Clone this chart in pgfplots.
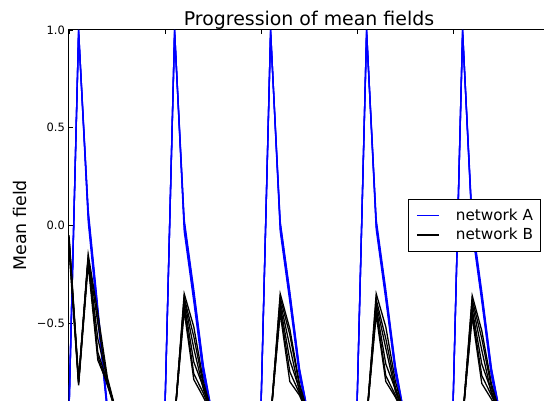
\documentclass[border=0pt]{standalone}
\usepackage{fontspec}
\setmainfont{DejaVu Sans}
\usepackage{pgfplots}
\usepackage{pgfplotstable}
\pgfplotsset{compat=1.18}
\definecolor{mplblue}{RGB}{0,0,255}
\pgfplotsset{
  bluelegend/.style={
    legend image code/.code={%
      \draw[draw=mplblue, color=mplblue, line width=1.3bp] (0bp,0bp) -- (22bp,0bp);
      \path[draw=none, fill=none] (22bp,0bp) -- (39bp,0bp);%
    }
  },
  blacklegend/.style={
    legend image code/.code={%
      \draw[draw=black, color=black, line width=1.3bp] (0bp,0bp) -- (22bp,0bp);
      \path[draw=none, fill=none] (22bp,0bp) -- (39bp,0bp);%
    }
  }
}

\pgfplotstableread{
t a1 a2 a3 a4 b1 b2 b3 b4 b5 b6
0 -0.95 -0.96 -0.94 -0.95 -0.05 -0.07 -0.08 -0.10 -0.12 -0.06
1 1.00 0.99 1.00 0.98 -0.79 -0.80 -0.80 -0.81 -0.82 -0.80
2 0.05 0.08 0.02 0.06 -0.15 -0.16 -0.17 -0.18 -0.20 -0.17
3 -0.45 -0.42 -0.48 -0.44 -0.45 -0.50 -0.58 -0.65 -0.69 -0.67
4 -0.95 -0.93 -0.96 -0.94 -0.78 -0.80 -0.79 -0.80 -0.81 -0.82
5 -0.99 -0.99 -1.00 -0.99 -0.97 -0.97 -0.98 -0.97 -0.98 -0.97
6 -0.99 -0.99 -0.99 -0.99 -0.98 -0.98 -0.98 -0.98 -0.98 -0.98
7 -0.99 -0.99 -0.99 -0.99 -0.98 -0.98 -0.98 -0.98 -0.98 -0.98
8 -0.99 -0.99 -0.99 -0.99 -0.99 -0.99 -0.99 -0.99 -0.99 -0.99
9 -0.98 -0.98 -0.98 -0.98 -0.99 -0.99 -0.99 -0.99 -0.99 -0.99
10 -0.93 -0.94 -0.92 -0.93 -0.99 -0.99 -0.99 -0.99 -0.99 -0.99
11 1.00 0.99 1.00 0.98 -1.00 -0.99 -1.00 -0.99 -1.00 -0.99
12 0.00 0.03 -0.03 0.01 -0.35 -0.37 -0.38 -0.40 -0.42 -0.44
13 -0.36 -0.33 -0.39 -0.35 -0.52 -0.57 -0.63 -0.70 -0.76 -0.79
14 -0.75 -0.72 -0.77 -0.73 -0.80 -0.82 -0.84 -0.83 -0.86 -0.88
15 -1.00 -0.99 -1.00 -0.99 -0.98 -0.98 -0.98 -0.98 -0.98 -0.98
16 -0.99 -0.99 -0.99 -0.99 -0.99 -0.99 -0.99 -0.99 -0.99 -0.99
17 -0.99 -0.99 -0.99 -0.99 -0.99 -0.99 -0.99 -0.99 -0.99 -0.99
18 -0.99 -0.99 -0.99 -0.99 -0.99 -0.99 -0.99 -0.99 -0.99 -0.99
19 -0.98 -0.98 -0.98 -0.98 -0.99 -0.99 -0.99 -0.99 -0.99 -0.99
20 -0.93 -0.94 -0.92 -0.93 -0.99 -0.99 -0.99 -0.99 -0.99 -0.99
21 1.00 0.99 1.00 0.98 -1.00 -0.99 -1.00 -0.99 -1.00 -0.99
22 -0.01 0.02 -0.03 0.01 -0.35 -0.37 -0.39 -0.41 -0.43 -0.45
23 -0.37 -0.34 -0.39 -0.35 -0.53 -0.56 -0.62 -0.69 -0.75 -0.80
24 -0.75 -0.73 -0.77 -0.74 -0.81 -0.82 -0.85 -0.84 -0.86 -0.87
25 -1.00 -0.99 -1.00 -0.99 -0.98 -0.98 -0.98 -0.98 -0.98 -0.98
26 -0.99 -0.99 -0.99 -0.99 -0.99 -0.99 -0.99 -0.99 -0.99 -0.99
27 -0.99 -0.99 -0.99 -0.99 -0.99 -0.99 -0.99 -0.99 -0.99 -0.99
28 -0.99 -0.99 -0.99 -0.99 -0.99 -0.99 -0.99 -0.99 -0.99 -0.99
29 -0.98 -0.98 -0.98 -0.98 -0.99 -0.99 -0.99 -0.99 -0.99 -0.99
30 -0.93 -0.94 -0.92 -0.93 -0.99 -0.99 -0.99 -0.99 -0.99 -0.99
31 1.00 0.99 1.00 0.98 -1.00 -0.99 -1.00 -0.99 -1.00 -0.99
32 0.00 0.03 -0.02 0.01 -0.35 -0.38 -0.40 -0.42 -0.44 -0.46
33 -0.36 -0.33 -0.38 -0.35 -0.52 -0.58 -0.63 -0.71 -0.77 -0.80
34 -0.75 -0.72 -0.76 -0.73 -0.80 -0.83 -0.85 -0.84 -0.87 -0.88
35 -1.00 -0.99 -1.00 -0.99 -0.98 -0.98 -0.98 -0.98 -0.98 -0.98
36 -0.99 -0.99 -0.99 -0.99 -0.99 -0.99 -0.99 -0.99 -0.99 -0.99
37 -0.99 -0.99 -0.99 -0.99 -0.99 -0.99 -0.99 -0.99 -0.99 -0.99
38 -0.99 -0.99 -0.99 -0.99 -0.99 -0.99 -0.99 -0.99 -0.99 -0.99
39 -0.98 -0.98 -0.98 -0.98 -0.99 -0.99 -0.99 -0.99 -0.99 -0.99
40 -0.93 -0.94 -0.92 -0.93 -0.99 -0.99 -0.99 -0.99 -0.99 -0.99
41 1.00 0.99 1.00 0.98 -1.00 -0.99 -1.00 -0.99 -1.00 -0.99
42 -0.01 0.02 -0.03 0.00 -0.36 -0.38 -0.40 -0.43 -0.45 -0.47
43 -0.37 -0.34 -0.39 -0.36 -0.54 -0.58 -0.64 -0.71 -0.77 -0.81
44 -0.76 -0.73 -0.77 -0.74 -0.81 -0.83 -0.86 -0.85 -0.87 -0.89
45 -1.00 -0.99 -1.00 -0.99 -0.98 -0.98 -0.98 -0.98 -0.98 -0.98
46 -0.99 -0.99 -0.99 -0.99 -0.99 -0.99 -0.99 -0.99 -0.99 -0.99
47 -0.99 -0.99 -0.99 -0.99 -0.99 -0.99 -0.99 -0.99 -0.99 -0.99
48 -0.99 -0.99 -0.99 -0.99 -0.99 -0.99 -0.99 -0.99 -0.99 -0.99
49 -0.98 -0.98 -0.98 -0.98 -0.99 -0.99 -0.99 -0.99 -0.99 -0.99
}\meandata

\begin{document}
\begin{tikzpicture}
\useasboundingbox (-69bp,19.6bp) rectangle (475bp,420.6bp);
\clip (-69bp,19.6bp) rectangle (475bp,420.6bp);
\begin{axis}[
  at={(0bp,0bp)}, anchor=south west,
  scale only axis, width=480bp, height=390.6bp,
  xmin=0, xmax=50, ymin=-1, ymax=1,
  xtick={0,10,20,30,40,50},
  xticklabels={},
  ytick={-0.5,0,0.5,1},
  yticklabels={−0.5,0.0,0.5,1.0},
  tick align=inside, major tick length=4bp, tick pos=both,
  minor tick num=0,
  axis line style={black, line width=1bp},
  every tick/.style={black, line width=0.8bp},
  yticklabel style={font=\fontsize{11.5}{13}\selectfont, anchor=east, inner sep=0pt, xshift=-4bp},
  title={Progression of mean fields},
  title style={font=\fontsize{19}{22}\selectfont, at={(axis description cs:0.5,1)}, anchor=south, inner sep=0pt, yshift=-5.5bp},
  ylabel={Mean field},
  ylabel style={font=\fontsize{17.5}{20}\selectfont, at={(axis description cs:-0.1027,0.5)}, anchor=center, inner sep=0pt},
  legend style={at={(axis description cs:1,0.5)}, anchor=east, xshift=-8bp,
    line width=0.8bp, fill=white,
    font=\fontsize{15.3}{18}\selectfont,
    inner xsep=7.5bp, inner ysep=9.5bp, row sep=5.8bp,
    cells={anchor=west}, nodes={inner sep=0pt, text depth=0.2em}},
]
\addplot[color=mplblue, line width=1.3bp, bluelegend] table[x=t, y=a1] {\meandata};
\addlegendentry{network A}
\addplot[color=mplblue, line width=1.3bp, forget plot] table[x=t, y=a2] {\meandata};
\addplot[color=mplblue, line width=1.3bp, forget plot] table[x=t, y=a3] {\meandata};
\addplot[color=mplblue, line width=1.3bp, forget plot] table[x=t, y=a4] {\meandata};
\addplot[color=black, line width=1.3bp, blacklegend] table[x=t, y=b1] {\meandata};
\addlegendentry{network B}
\addplot[color=black, line width=1.3bp, forget plot] table[x=t, y=b2] {\meandata};
\addplot[color=black, line width=1.3bp, forget plot] table[x=t, y=b3] {\meandata};
\addplot[color=black, line width=1.3bp, forget plot] table[x=t, y=b4] {\meandata};
\addplot[color=black, line width=1.3bp, forget plot] table[x=t, y=b5] {\meandata};
\addplot[color=black, line width=1.3bp, forget plot] table[x=t, y=b6] {\meandata};
\end{axis}
\end{tikzpicture}
\end{document}
